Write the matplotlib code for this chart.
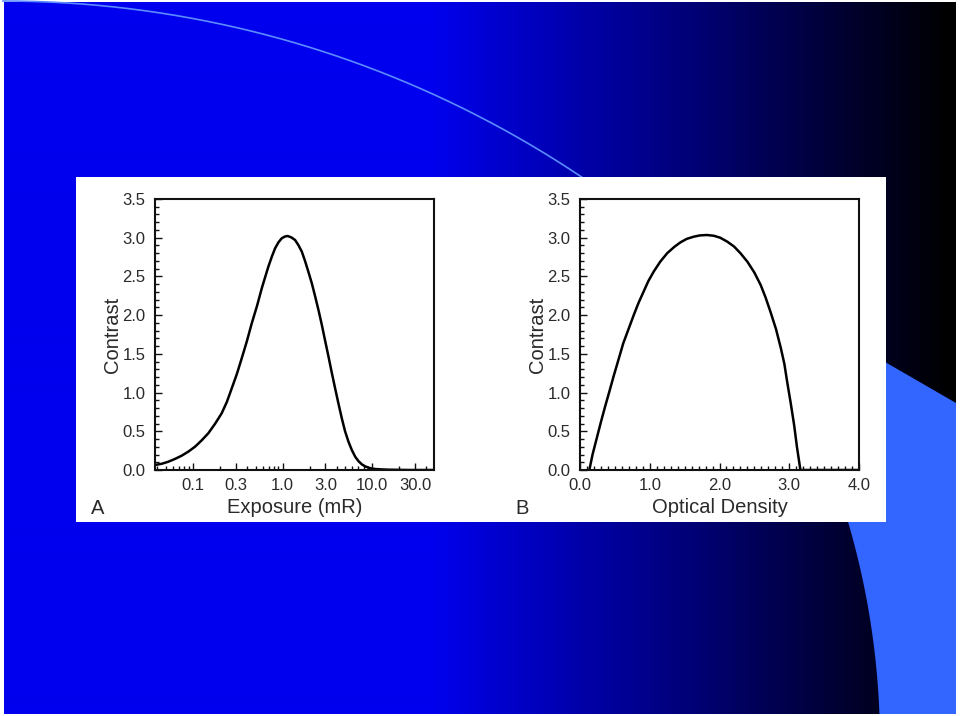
import numpy as np
import matplotlib
matplotlib.use("Agg")
import matplotlib.pyplot as plt
from matplotlib.patches import Rectangle, Polygon
from matplotlib.ticker import FixedLocator, LogLocator, MultipleLocator, NullFormatter

plt.rcParams['font.family'] = ['Liberation Sans', 'DejaVu Sans']

# panel A: contrast vs exposure (log axis)
exposure_mr = [0.038, 0.045, 0.0535, 0.064, 0.0754, 0.09, 0.106, 0.125, 0.149,
               0.178, 0.210, 0.24, 0.272, 0.31, 0.351, 0.40, 0.454, 0.52, 0.587,
               0.64, 0.695, 0.76, 0.826, 0.90, 0.979, 1.06, 1.14, 1.25, 1.38,
               1.50, 1.64, 1.78, 1.94, 2.12, 2.31, 2.52, 2.74, 2.98, 3.25, 3.53,
               3.85, 4.2, 4.57, 4.97, 5.42, 5.9, 6.44, 7.0, 7.64, 8.3, 9.06, 9.8,
               10.7, 12.5, 15.1, 20.0, 25.0, 48.6]
contrast_a = [0.065, 0.08, 0.107, 0.145, 0.185, 0.24, 0.301, 0.38, 0.474,
              0.60, 0.732, 0.88, 1.055, 1.24, 1.442, 1.66, 1.894, 2.12, 2.346,
              2.49, 2.626, 2.755, 2.863, 2.94, 2.992, 3.015, 3.022, 3.005, 2.970,
              2.905, 2.82, 2.70, 2.56, 2.41, 2.24, 2.06, 1.873, 1.67, 1.464, 1.26,
              1.055, 0.855, 0.668, 0.50, 0.366, 0.26, 0.172, 0.115, 0.073, 0.048, 0.030, 0.02,
              0.013, 0.008, 0.004, 0.002, 0.0, 0.0]
exposure_ticks = [0.1, 0.3, 1.0, 3.0, 10.0, 30.0]
exposure_labels = ["0.1", "0.3", "1.0", "3.0", "10.0", "30.0"]

# panel B: contrast vs optical density
optical_density = [0.134, 0.18, 0.24, 0.30, 0.36, 0.42, 0.48, 0.55, 0.62, 0.70,
                   0.77, 0.84, 0.91, 0.98, 1.055, 1.15, 1.25, 1.35, 1.44, 1.53,
                   1.63, 1.72, 1.82, 1.92, 2.01, 2.11, 2.21, 2.30, 2.40, 2.50,
                   2.59, 2.66, 2.73, 2.81, 2.88, 2.93, 2.97, 3.02, 3.07, 3.11, 3.16, 4.0]
contrast_b = [0.0, 0.2, 0.41, 0.62, 0.82, 1.01, 1.205, 1.42, 1.636, 1.83,
              2.00, 2.16, 2.30, 2.44, 2.56, 2.69, 2.80, 2.88, 2.94, 2.985,
              3.013, 3.03, 3.035, 3.025, 3.00, 2.95, 2.885, 2.80, 2.69, 2.55,
              2.39, 2.23, 2.045, 1.82, 1.572, 1.37, 1.14, 0.87, 0.58, 0.30, 0.0, 0.0]
density_ticks = [0.0, 1.0, 2.0, 3.0, 4.0]

contrast_ticks = [0.0, 0.5, 1.0, 1.5, 2.0, 2.5, 3.0, 3.5]

W, H = 960, 716
fig = plt.figure(figsize=(W / 100, H / 100), dpi=100, facecolor="white")

# slide background, in pixel coordinates
bg = fig.add_axes([0, 0, 1, 1], zorder=0)
bg.set_xlim(0, W)
bg.set_ylim(H, 0)
bg.axis("off")

cols = np.arange(4, 956)
fade = np.clip((950 - cols) / (950 - 430), 0, 1)
grad = np.zeros((1, len(cols), 3))
grad[0, :, 2] = 238 / 255 * fade
bg.imshow(grad, extent=(4, 956, 714, 2), aspect="auto", interpolation="bilinear", zorder=0)

# thin highlight arc from the top-left corner
arc_x = np.linspace(3, 700, 400)
bg.plot(arc_x, 1040 - np.sqrt(1039**2 - (arc_x - 3)**2), color="#5b8cff", lw=1.2, zorder=0.5)

# light blue shape at the right
ys = np.linspace(714, 266, 120)
xs = 92 + np.sqrt(788**2 - (ys - 744)**2)
verts = [(719, 266), (956, 403), (956, 714)] + list(zip(xs, ys))
bg.add_patch(Polygon(verts, closed=True, facecolor="#3366ff", edgecolor="none", zorder=0.6))

# white picture panel
bg.add_patch(Rectangle((76, 177), 810, 345, facecolor="white", edgecolor="none", zorder=1))

txt = "#2a2a2a"


def style_axes(ax):
    for s in ax.spines.values():
        s.set_linewidth(1.5)
        s.set_color("#111111")
    ax.tick_params(which="both", direction="in", colors="#111111",
                   labelcolor=txt, labelsize=12, width=1)
    ax.tick_params(which="major", length=5)
    ax.tick_params(which="minor", length=3)
    ax.tick_params(axis="y", pad=7)
    ax.tick_params(axis="x", pad=6)
    ax.set_ylim(0, 3.5)
    ax.set_yticks(contrast_ticks)
    ax.set_yticklabels([f"{v:.1f}" for v in contrast_ticks])
    ax.yaxis.set_minor_locator(MultipleLocator(0.1))
    ax.set_ylabel("Contrast", fontsize=14.5, color=txt)
    ax.yaxis.set_label_coords(-0.12, 0.5)


# panel A
axA = fig.add_axes([155 / W, (H - 470) / H, 279 / W, 271 / H], zorder=2)
axA.plot(exposure_mr, contrast_a, color="black", lw=1.8)
axA.set_xscale("log")
axA.set_xlim(0.038, 48.6)
style_axes(axA)
axA.xaxis.set_major_locator(FixedLocator(exposure_ticks))
axA.set_xticklabels(exposure_labels)
axA.xaxis.set_minor_locator(LogLocator(base=10, subs=(2, 3, 4, 5, 6, 7, 8, 9)))
axA.xaxis.set_minor_formatter(NullFormatter())
axA.set_xlabel("Exposure (mR)", fontsize=14.5, color=txt)
axA.xaxis.set_label_coords(0.5, -0.105)

# panel B
axB = fig.add_axes([580 / W, (H - 470) / H, 279 / W, 271 / H], zorder=2)
axB.plot(optical_density, contrast_b, color="black", lw=1.8)
axB.set_xlim(0, 4.0)
style_axes(axB)
axB.set_xticks(density_ticks)
axB.set_xticklabels([f"{v:.1f}" for v in density_ticks])
axB.xaxis.set_minor_locator(MultipleLocator(0.1))
axB.set_xlabel("Optical Density", fontsize=14.5, color=txt)
axB.xaxis.set_label_coords(0.5, -0.105)

# panel letters
fig.text(98 / W, 1 - 514 / H, "A", fontsize=14.5, color=txt, ha="center", va="baseline")
fig.text(522 / W, 1 - 514 / H, "B", fontsize=14.5, color=txt, ha="center", va="baseline")

fig.savefig("out.png", dpi=100)
